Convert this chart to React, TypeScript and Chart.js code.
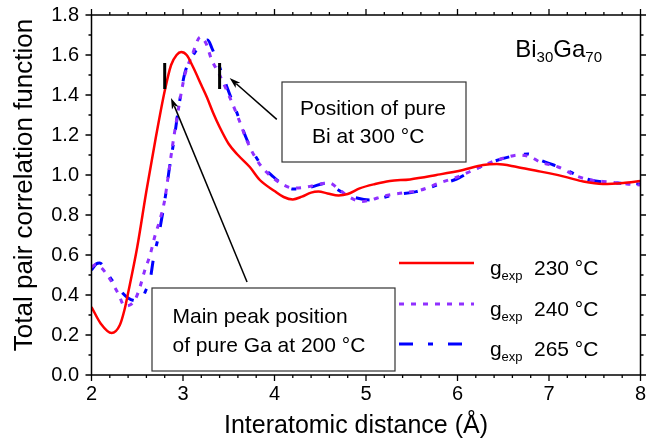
import React, { useEffect, useRef } from "react";
import { Chart, registerables } from "chart.js";

Chart.register(...registerables);

const FONT = '"Liberation Sans", Arial, Helvetica, sans-serif';

// Axis ticks
const xTickValues = [2, 3, 4, 5, 6, 7, 8];
const yTickValues = [0, 0.2, 0.4, 0.6, 0.8, 1.0, 1.2, 1.4, 1.6, 1.8];

// g_exp 230 °C (solid red)
const g230X = [2.0, 2.1, 2.22, 2.31, 2.36, 2.4, 2.5, 2.6, 2.7, 2.8, 2.87, 2.93, 2.98, 3.04, 3.11, 3.2, 3.26, 3.33, 3.4, 3.5, 3.6, 3.73, 3.84, 4.0, 4.1, 4.2, 4.3, 4.4, 4.48, 4.58, 4.7, 4.8, 4.93, 5.1, 5.26, 5.48, 5.77, 6.06, 6.28, 6.43, 6.65, 6.85, 7.01, 7.2, 7.375, 7.59, 7.81, 8.0];
const g230Y = [0.34, 0.258, 0.21, 0.25, 0.325, 0.41, 0.64, 0.92, 1.18, 1.42, 1.55, 1.6, 1.615, 1.6, 1.54, 1.45, 1.39, 1.31, 1.24, 1.155, 1.1, 1.04, 0.975, 0.92, 0.89, 0.878, 0.892, 0.912, 0.917, 0.908, 0.898, 0.905, 0.933, 0.955, 0.97, 0.978, 1.0, 1.025, 1.05, 1.055, 1.04, 1.022, 1.008, 0.988, 0.967, 0.955, 0.96, 0.97];

// g_exp 240 °C (dotted violet)
const g240X = [2.0, 2.05, 2.1, 2.2, 2.3, 2.36, 2.42, 2.48, 2.53, 2.58, 2.64, 2.69, 2.75, 2.8, 2.84, 2.89, 2.95, 3.02, 3.1, 3.19, 3.25, 3.31, 3.4, 3.5, 3.6, 3.7, 3.8, 3.9, 4.0, 4.1, 4.2, 4.35, 4.5, 4.6, 4.7, 4.8, 4.95, 5.05, 5.2, 5.4, 5.6, 5.8, 6.0, 6.2, 6.4, 6.55, 6.66, 6.8, 6.9, 7.1, 7.3, 7.45, 7.67, 7.85, 8.0];
const g240Y = [0.54, 0.552, 0.54, 0.48, 0.4, 0.345, 0.35, 0.38, 0.44, 0.52, 0.6, 0.69, 0.78, 0.875, 1.0, 1.16, 1.33, 1.5, 1.6, 1.69, 1.66, 1.58, 1.5, 1.4, 1.29, 1.17, 1.08, 1.02, 0.98, 0.95, 0.935, 0.94, 0.955, 0.96, 0.93, 0.895, 0.867, 0.875, 0.895, 0.91, 0.925, 0.96, 0.99, 1.03, 1.07, 1.09, 1.1, 1.09, 1.065, 1.04, 0.995, 0.975, 0.965, 0.955, 0.95];

// g_exp 265 °C (dash-dot blue)
const g265X = [2.0, 2.05, 2.09, 2.15, 2.2, 2.3, 2.4, 2.5, 2.55, 2.6, 2.64, 2.68, 2.73, 2.82, 2.85, 2.9, 2.95, 3.02, 3.1, 3.19, 3.27, 3.32, 3.37, 3.4, 3.48, 3.59, 3.7, 3.84, 3.99, 4.1, 4.2, 4.4, 4.57, 4.68, 4.75, 4.9, 5.04, 5.3, 5.55, 5.81, 5.99, 6.17, 6.39, 6.61, 6.77, 6.9, 7.05, 7.19, 7.3, 7.45, 7.67, 7.85, 8.0];
const g265Y = [0.525, 0.555, 0.56, 0.53, 0.49, 0.43, 0.385, 0.37, 0.38, 0.43, 0.475, 0.59, 0.69, 0.93, 1.03, 1.17, 1.33, 1.51, 1.59, 1.65, 1.675, 1.63, 1.575, 1.54, 1.44, 1.31, 1.175, 1.06, 0.99, 0.95, 0.93, 0.94, 0.96, 0.93, 0.91, 0.885, 0.875, 0.9, 0.917, 0.955, 0.98, 1.025, 1.067, 1.095, 1.105, 1.075, 1.05, 1.025, 1.0, 0.975, 0.962, 0.958, 0.955];

const seriesTemps = ["230 °C", "240 °C", "265 °C"];
const seriesColors = ["#ff0000", "#9030ff", "#0000ff"];

// reference positions (vertical bars) of pure Ga and pure Bi
const markerX = [2.8, 3.4];
const markerYLow = 1.43;
const markerYHigh = 1.56;

// arrows: [tailX, tailY, tipX, tipY] in data units
const arrowGa = [3.7, 0.465, 2.869, 1.385];
const arrowBi = [4.025, 1.278, 3.51, 1.485];

const toPts = (xs: number[], ys: number[]) => xs.map((x, i) => ({ x, y: ys[i] }));

const decorPlugin = {
  id: "decor",
  afterDraw(chart: any) {
    const { ctx, chartArea } = chart;
    const { left, right, top, bottom } = chartArea;
    const xs = chart.scales.x;
    const ys = chart.scales.y;
    ctx.save();

    // frame
    ctx.strokeStyle = "#000";
    ctx.lineWidth = 1.5;
    ctx.strokeRect(left, top, right - left, bottom - top);

    // ticks x (major 1, minor 0.2)
    ctx.lineWidth = 1.3;
    for (let i = 0; i <= 30; i++) {
      const v = 2 + i * 0.2;
      const px = xs.getPixelForValue(v);
      const len = i % 5 === 0 ? 6 : 3;
      ctx.beginPath();
      ctx.moveTo(px, bottom);
      ctx.lineTo(px, bottom + len);
      ctx.moveTo(px, top);
      ctx.lineTo(px, top - len);
      ctx.stroke();
    }
    for (let i = 0; i <= 18; i++) {
      const v = i * 0.1;
      const py = ys.getPixelForValue(v);
      const len = i % 2 === 0 ? 6 : 3;
      ctx.beginPath();
      ctx.moveTo(left, py);
      ctx.lineTo(left - len, py);
      ctx.moveTo(right, py);
      ctx.lineTo(right + len, py);
      ctx.stroke();
    }

    // vertical marker bars
    ctx.lineWidth = 3;
    markerX.forEach((mx) => {
      const px = xs.getPixelForValue(mx);
      ctx.beginPath();
      ctx.moveTo(px, ys.getPixelForValue(markerYLow));
      ctx.lineTo(px, ys.getPixelForValue(markerYHigh));
      ctx.stroke();
    });

    // arrows
    const drawArrow = (a: number[]) => {
      const x1 = xs.getPixelForValue(a[0]);
      const y1 = ys.getPixelForValue(a[1]);
      const x2 = xs.getPixelForValue(a[2]);
      const y2 = ys.getPixelForValue(a[3]);
      const ang = Math.atan2(y2 - y1, x2 - x1);
      const hl = 11;
      const hw = 3.5;
      ctx.lineWidth = 1.5;
      ctx.beginPath();
      ctx.moveTo(x1, y1);
      ctx.lineTo(x2 - Math.cos(ang) * hl * 0.8, y2 - Math.sin(ang) * hl * 0.8);
      ctx.stroke();
      ctx.beginPath();
      ctx.moveTo(x2, y2);
      ctx.lineTo(x2 - Math.cos(ang) * hl - Math.sin(ang) * hw, y2 - Math.sin(ang) * hl + Math.cos(ang) * hw);
      ctx.lineTo(x2 - Math.cos(ang) * hl * 0.75, y2 - Math.sin(ang) * hl * 0.75);
      ctx.lineTo(x2 - Math.cos(ang) * hl + Math.sin(ang) * hw, y2 - Math.sin(ang) * hl - Math.cos(ang) * hw);
      ctx.closePath();
      ctx.fillStyle = "#000";
      ctx.fill();
    };
    drawArrow(arrowGa);
    drawArrow(arrowBi);

    // annotation boxes
    ctx.fillStyle = "#000";
    ctx.textBaseline = "alphabetic";
    ctx.textAlign = "left";
    const drawBox = (x: number, y: number, w: number, h: number) => {
      ctx.fillStyle = "#fff";
      ctx.fillRect(x, y, w, h);
      ctx.strokeStyle = "#333";
      ctx.lineWidth = 1.2;
      ctx.strokeRect(x, y, w, h);
      ctx.fillStyle = "#000";
    };
    drawBox(282, 82, 184, 80);
    ctx.font = `21px ${FONT}`;
    ctx.fillText("Position of pure", 300, 115);
    ctx.fillText("Bi at 300 °C", 312, 143);

    drawBox(152, 288, 243, 83);
    ctx.fillText("Main peak position", 172.5, 322.5);
    ctx.fillText("of pure Ga at 200 °C", 172.5, 351.5);

    // legend
    const rows = [263, 304, 344];
    chart.data.datasets.forEach((ds: any, i: number) => {
      ctx.save();
      ctx.strokeStyle = ds.borderColor;
      ctx.lineWidth = ds.borderWidth;
      ctx.setLineDash(ds.borderDash || []);
      ctx.beginPath();
      ctx.moveTo(399, rows[i]);
      ctx.lineTo(474, rows[i]);
      ctx.stroke();
      ctx.restore();
      ctx.fillStyle = "#000";
      ctx.font = `21px ${FONT}`;
      ctx.fillText("g", 490, rows[i] + 11.5);
      ctx.font = `13px ${FONT}`;
      ctx.fillText("exp", 501.5, rows[i] + 17);
      ctx.font = `21px ${FONT}`;
      ctx.fillText(seriesTemps[i], 534, rows[i] + 11.5);
    });

    // composition label Bi30Ga70 (right-aligned at 602)
    const parts: [string, boolean][] = [["Bi", false], ["30", true], ["Ga", false], ["70", true]];
    const bigF = `24px ${FONT}`;
    const subF = `15px ${FONT}`;
    let total = 0;
    parts.forEach(([t, s]) => {
      ctx.font = s ? subF : bigF;
      total += ctx.measureText(t).width;
    });
    let cx = 602 - total;
    parts.forEach(([t, s]) => {
      ctx.font = s ? subF : bigF;
      ctx.fillText(t, cx, s ? 62 : 56.5);
      cx += ctx.measureText(t).width;
    });

    // axis titles
    ctx.font = `25px ${FONT}`;
    ctx.textAlign = "center";
    ctx.fillText("Interatomic distance (Å)", 356, 433);
    ctx.save();
    ctx.translate(31.5, 185);
    ctx.rotate(-Math.PI / 2);
    ctx.font = `26px ${FONT}`;
    ctx.fillText("Total pair correlation function", 0, 0);
    ctx.restore();

    ctx.restore();
  },
};

export default function App() {
  const ref = useRef<HTMLCanvasElement | null>(null);
  useEffect(() => {
    if (!ref.current) return;
    const common = { fill: false, pointRadius: 0, cubicInterpolationMode: "monotone" as const };
    const chart = new Chart(ref.current, {
      type: "line",
      data: {
        datasets: [
          { ...common, label: "230", data: toPts(g230X, g230Y), borderColor: seriesColors[0], borderWidth: 2.5 },
          { ...common, label: "240", data: toPts(g240X, g240Y), borderColor: seriesColors[1], borderWidth: 3, borderDash: [5, 7] },
          { ...common, label: "265", data: toPts(g265X, g265Y), borderColor: seriesColors[2], borderWidth: 3, borderDash: [14, 15, 5, 15] },
        ],
      },
      options: {
        animation: false,
        responsive: false,
        devicePixelRatio: 1,
        layout: { padding: { top: 15, right: 5.5, left: 0, bottom: 0 } },
        plugins: { legend: { display: false }, tooltip: { enabled: false } },
        scales: {
          x: {
            type: "linear",
            min: 2,
            max: 8,
            afterBuildTicks: (s: any) => { s.ticks = xTickValues.map((v) => ({ value: v })); },
            afterFit: (s: any) => { s.height = 66; s.paddingLeft = 0; s.paddingRight = 0; },
            grid: { display: false, drawTicks: false },
            border: { display: false },
            ticks: { color: "#000", font: { family: FONT, size: 20 }, padding: 7, maxRotation: 0, callback: (v: any) => String(v) },
          },
          y: {
            type: "linear",
            min: 0,
            max: 1.8,
            afterBuildTicks: (s: any) => { s.ticks = yTickValues.map((v) => ({ value: v })); },
            afterFit: (s: any) => { s.width = 91.5; s.paddingTop = 0; s.paddingBottom = 0; },
            grid: { display: false, drawTicks: false },
            border: { display: false },
            ticks: { color: "#000", font: { family: FONT, size: 20 }, padding: 12.5, callback: (v: any) => Number(v).toFixed(1) },
          },
        },
      },
      plugins: [decorPlugin],
    });
    return () => chart.destroy();
  }, []);
  return (
    <div style={{ position: "absolute", left: 0, top: 0, width: 646, height: 441, background: "#fff" }}>
      <canvas ref={ref} width={646} height={441} style={{ display: "block", width: 646, height: 441 }} />
    </div>
  );
}
